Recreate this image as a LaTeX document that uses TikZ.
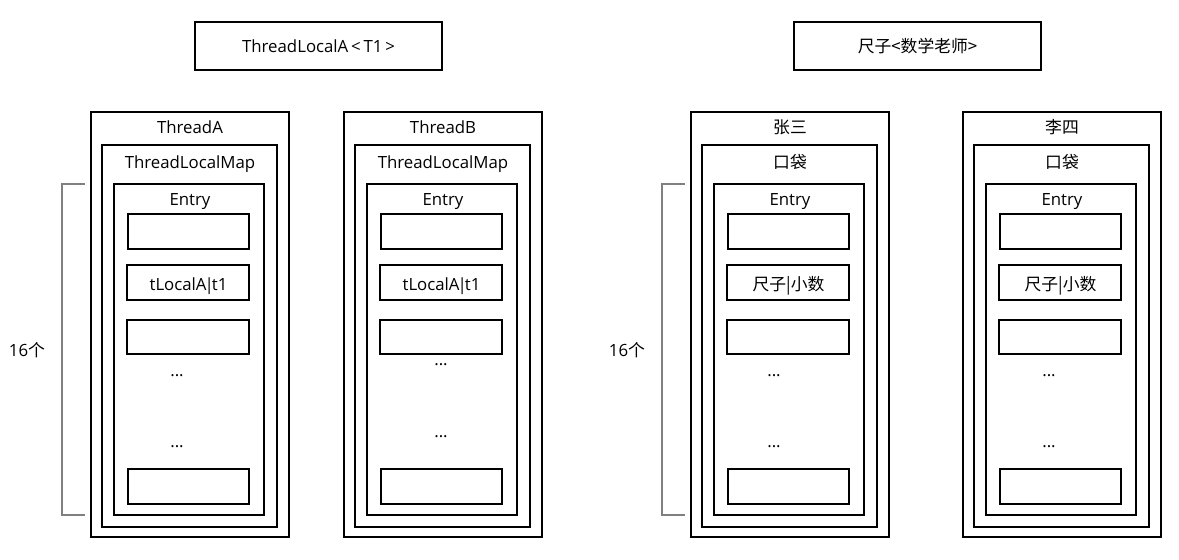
\documentclass[tikz,border=0pt]{standalone}
\usepackage{fontspec}
\setmainfont{Open Sans}
\newfontfamily\cjk{Noto Sans CJK SC}
\usetikzlibrary{fit}

\tikzset{
  box/.style={draw, line width=0.55pt, inner sep=0pt},
  txt/.style={font=\fontsize{8.4}{10}\selectfont, inner sep=0pt, anchor=base},
  bracket/.style={draw=gray, line width=0.55pt},
}

\begin{document}
\begin{tikzpicture}[x=0.5pt, y=-0.5pt]
  \useasboundingbox (0,0) rectangle (1179,560);
  % generic types
  \node[box, fit={(195,22) (442,70)}] (tlocal) {};
  \node[txt] (tlocal-name) at (318.5,53) {ThreadLocalA\,<\,T1\,>};
  \node[box, fit={(794,22) (1041,70)}] (ruler) {};
  \node[txt] (ruler-name) at (917.5,53) {\cjk 尺子<数学老师>};
  % threads and their maps
  \foreach \x/\n/\title/\map/\val/\dx/\dya/\dyb in {
      91/A/ThreadA/ThreadLocalMap/tLocalA\kern-1pt|\kern-1pt t1/86/374/445,
      344/B/ThreadB/ThreadLocalMap/tLocalA\kern-1pt|\kern-1pt t1/97/363/435,
      691/Z/{\cjk 张三}/{\cjk 口袋}/{\cjk 尺子|小数}/83/374/445,
      963/L/{\cjk 李四}/{\cjk 口袋}/{\cjk 尺子|小数}/86/374/445} {
    \node[box, fit={(\x,112) (\x+198,537)}] (\n-thread) {};
    \node[box, fit={(\x+11,145) (\x+186,527)}] (\n-map) {};
    \node[box, fit={(\x+23,184) (\x+173,515)}] (\n-entry) {};
    \node[txt] (\n-title) at (\x+99,134) {\title};
    \node[txt] (\n-mapname) at (\x+99,169) {\map};
    \node[txt] (\n-entryname) at (\x+99,206) {Entry};
    \node[box, fit={(\x+37,214) (\x+158,249)}] (\n-slot1) {};
    \node[box, fit={(\x+36,265) (\x+158,300)}] (\n-slot2) {};
    \node[txt] (\n-val) at (\x+97.5,291) {\val};
    \node[box, fit={(\x+36,320) (\x+158,354)}] (\n-slot3) {};
    \node[txt] (\n-dots1) at (\x+\dx,\dya+3) {...};
    \node[txt] (\n-dots2) at (\x+\dx,\dyb+3) {...};
    \node[box, fit={(\x+37,469) (\x+158,504)}] (\n-slot16) {};
  }
  % sixteen slots
  \coordinate (brA-top) at (85,184);
  \coordinate (brA-bot) at (85,515);
  \draw[bracket] (brA-top) -- ++(-23,0) |- (brA-bot);
  \node[txt] (countA) at (27,357) {16\cjk 个};
  \coordinate (brZ-top) at (685,184);
  \coordinate (brZ-bot) at (685,515);
  \draw[bracket] (brZ-top) -- ++(-23,0) |- (brZ-bot);
  \node[txt] (countZ) at (627,357) {16\cjk 个};
\end{tikzpicture}
\end{document}
